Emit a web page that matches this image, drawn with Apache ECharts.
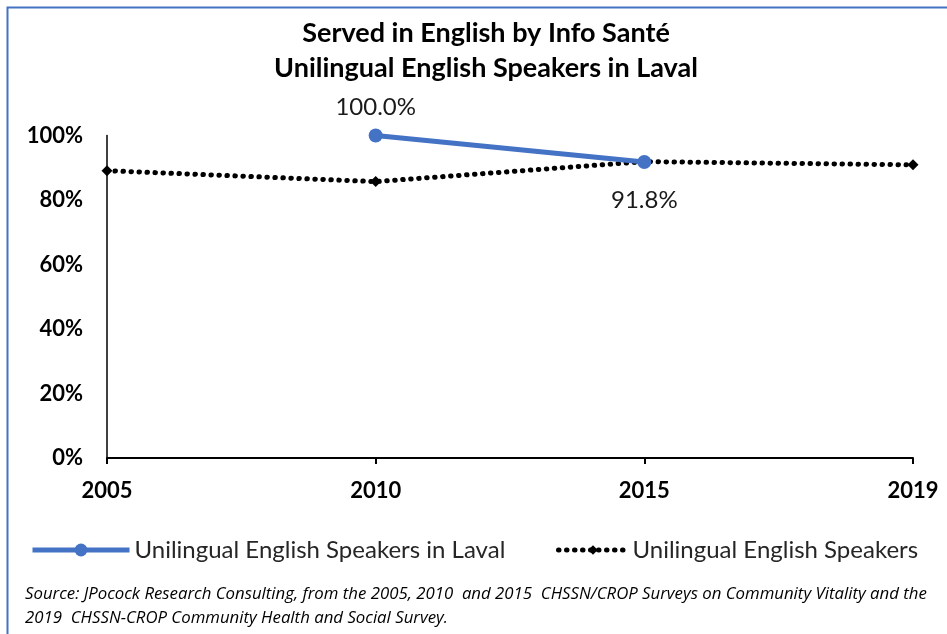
<!DOCTYPE html>
<html>
<head>
<meta charset="utf-8">
<script src="https://cdn.jsdelivr.net/npm/echarts@6/dist/echarts.min.js"></script>
<style>html,body{margin:0;padding:0;background:#fff}#c{width:947px;height:634px}</style>
</head>
<body>
<div id="c"></div>
<script>
var categories = ['2005', '2010', '2015', '2019'];
var lavalValues = [null, 100.0, 91.8, null];
var allValues = [89.1, 85.7, 91.9, 90.9];
var seriesNames = ['Unilingual English Speakers in Laval', 'Unilingual English Speakers'];
var titleLines = ['Served in English by Info Santé', 'Unilingual English Speakers in Laval'];
var sourceLines = [
  'Source: JPocock Research Consulting, from the 2005, 2010  and 2015  CHSSN/CROP Surveys on Community Vitality and the',
  '2019  CHSSN-CROP Community Health and Social Survey.'
];

var FONT = 'Lato';
var chart = echarts.init(document.getElementById('c'));
chart.setOption({
  backgroundColor: '#fff',
  animation: false,
  title: {
    text: titleLines.join('\n'),
    left: 481, top: 11, textAlign: 'center',
    textStyle: { fontFamily: FONT, fontWeight: 'bold', fontSize: 27, lineHeight: 35, color: '#000' }
  },
  grid: { left: 107, right: 34, top: 135.5, bottom: 176, containLabel: false },
  xAxis: {
    type: 'category', data: categories, boundaryGap: false,
    axisLine: { lineStyle: { color: '#000', width: 2 } },
    axisTick: { show: true, length: 6, lineStyle: { color: '#000', width: 2 } },
    axisLabel: { margin: 22, fontFamily: FONT, fontWeight: 'bold', fontSize: 22, color: '#000' },
    splitLine: { show: false }
  },
  yAxis: {
    type: 'value', min: 0, max: 100, interval: 20,
    axisLine: { show: true, lineStyle: { color: '#000', width: 1.5 } },
    axisTick: { show: false },
    axisLabel: { formatter: '{value}%', margin: 24, fontFamily: FONT, fontWeight: 'bold', fontSize: 22, color: '#000' },
    splitLine: { show: false }
  },
  legend: [
    {
      data: [seriesNames[0]], left: 25, top: 533, itemWidth: 97, itemHeight: 16, itemGap: 10,
      lineStyle: { width: 5 },
      textStyle: { fontFamily: FONT, fontSize: 24, color: '#262626' }
    },
    {
      data: [seriesNames[1]], left: 551, top: 533, itemWidth: 69, itemHeight: 12, itemGap: 8,
      lineStyle: { width: 5 },
      textStyle: { fontFamily: FONT, fontSize: 24, color: '#262626' }
    }
  ],
  graphic: [
    { type: 'rect', left: 5, top: 5, shape: { width: 1000, height: 1000 }, style: { fill: 'none', stroke: '#4472C4', lineWidth: 2 }, silent: true },
    { type: 'text', x: 25, y: 594, style: { text: sourceLines[0], font: 'italic 16.8px "Open Sans"', fill: '#000', verticalAlign: 'middle' } },
    { type: 'text', x: 25, y: 618, style: { text: sourceLines[1], font: 'italic 16.8px "Open Sans"', fill: '#000', verticalAlign: 'middle' } }
  ],
  series: [
    {
      name: seriesNames[1], type: 'line', data: allValues,
      symbol: 'diamond', symbolSize: 11,
      itemStyle: { color: '#000' },
      lineStyle: { color: '#000', width: 5, type: [0.5, 7.5], cap: 'round' },
      z: 2
    },
    {
      name: seriesNames[0], type: 'line',
      data: lavalValues.map(function (v, i) {
        if (v === null) return null;
        return { value: v, label: { position: i === 1 ? 'top' : 'bottom', distance: i === 1 ? 9 : 19 } };
      }),
      symbol: 'circle', symbolSize: 14,
      itemStyle: { color: '#4472C4' },
      lineStyle: { color: '#4472C4', width: 5 },
      label: {
        show: true, fontFamily: FONT, fontSize: 24, color: '#1a1a1a',
        formatter: function (p) { return p.value.toFixed(1) + '%'; }
      },
      z: 3
    }
  ]
});
</script>
</body>
</html>
